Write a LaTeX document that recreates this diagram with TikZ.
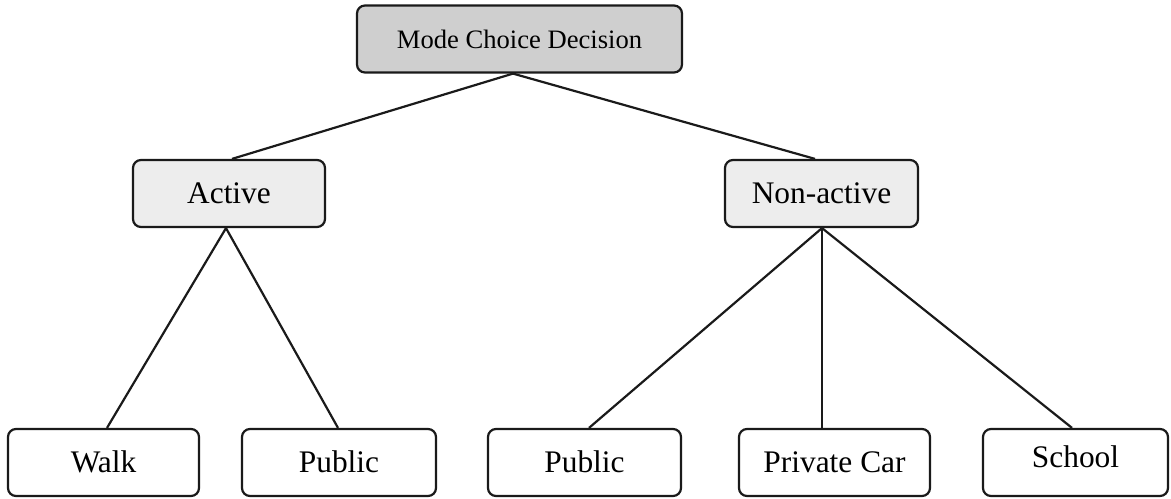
\documentclass[tikz,border=0pt]{standalone}
\usepackage{fontspec}
\setmainfont{Liberation Serif}
\definecolor{topfill}{HTML}{CFCFCF}
\definecolor{midfill}{HTML}{EDEDED}
\definecolor{boxline}{HTML}{1A1A1A}
\begin{document}
\begin{tikzpicture}[x=0.5pt,y=-0.5pt,
  box/.style={draw=boxline,line width=1.1pt,rounded corners=4pt,inner sep=0pt,
    minimum height=33.5pt,text height=1.0em,text depth=0.05em,
    font=\fontsize{15.7}{18}\selectfont},
  topbox/.style={box,fill=topfill,font=\fontsize{13.3}{16}\selectfont},
  midbox/.style={box,fill=midfill},
  leafbox/.style={box,fill=white},
  conn/.style={draw=boxline,line width=1.1pt}]
\useasboundingbox (0,0) rectangle (1171,498);
\node[topbox,minimum width=162.5pt] (top) at (519.5,39) {Mode Choice Decision};
\node[midbox,minimum width=96pt] (active) at (229,193.5) {Active};
\node[midbox,minimum width=96.5pt] (nonactive) at (821.5,193.5) {Non-active};
\node[leafbox,minimum width=95.5pt] (walk) at (103.5,462.5) {Walk};
\node[leafbox,minimum width=97pt] (publ) at (339,462.5) {Public};
\node[leafbox,minimum width=96.5pt] (pubm) at (584.5,462.5) {Public};
\node[leafbox,minimum width=95.5pt] (priv) at (834.5,462.5) {Private Car};
\node[leafbox,minimum width=92.5pt] (school) at (1075.5,462.5) {\raisebox{2.5pt}{School}};
\draw[conn] ([xshift=-3.25pt]top.south) -- ([xshift=1.5pt]active.north);
\draw[conn] ([xshift=-3.25pt]top.south) -- ([xshift=-3.25pt]nonactive.north);
\draw[conn] ([xshift=-1.5pt]active.south) -- ([xshift=1.75pt]walk.north);
\draw[conn] ([xshift=-1.5pt]active.south) -- ([xshift=-0.5pt]publ.north);
\draw[conn] ([xshift=0.25pt]nonactive.south) -- ([xshift=2.25pt]pubm.north);
\draw[conn] ([xshift=0.25pt]nonactive.south) -- ([xshift=-6.25pt]priv.north);
\draw[conn] ([xshift=0.25pt]nonactive.south) -- ([xshift=-1.75pt]school.north);
\end{tikzpicture}
\end{document}
